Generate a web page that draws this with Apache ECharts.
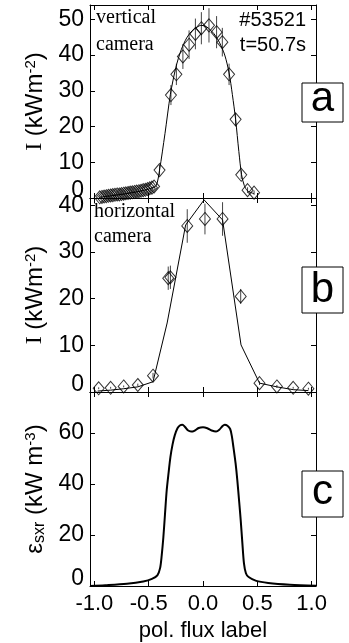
<!DOCTYPE html>
<html>
<head>
<meta charset="utf-8">
<script src="https://cdn.jsdelivr.net/npm/echarts@6/dist/echarts.min.js"></script>
<style>html,body{margin:0;padding:0;background:#fff;}#chart{width:349px;height:643px;}</style>
</head>
<body>
<div id="chart"></div>
<script>
// ---- Data ----
const xTicks = [-1.0, -0.5, 0.0, 0.5, 1.0];
const aTicks = [0, 10, 20, 30, 40, 50];
const bTicks = [0, 10, 20, 30, 40];
const cTicks = [0, 20, 40, 60];

// panel a: vertical camera (measured points + error)
const aX = [-0.95,-0.93,-0.91,-0.89,-0.87,-0.85,-0.83,-0.81,-0.79,-0.77,-0.75,-0.73,-0.71,-0.69,-0.67,-0.65,-0.63,-0.61,-0.59,-0.57,-0.55,-0.53,-0.51,-0.49,-0.47,-0.45,
            -0.40,-0.295,-0.245,-0.185,-0.128,-0.07,-0.015,0.055,0.125,0.178,0.24,0.30,0.352,0.41,0.47];
const aY = [0.2,0.3,0.4,0.5,0.6,0.7,0.8,0.9,1.0,1.0,1.1,1.2,1.3,1.4,1.5,1.6,1.7,1.8,1.9,2.0,2.2,2.3,2.5,2.7,2.9,3.2,
            7.8,28.8,34.6,39.6,42.9,45.9,47.5,48.3,46.4,43.6,34.6,22.0,6.5,2.2,1.5];
const aErr = [0.2,0.2,0.2,0.2,0.2,0.2,0.2,0.2,0.2,0.2,0.2,0.2,0.2,0.2,0.2,0.2,0.2,0.2,0.2,0.2,0.2,0.2,0.2,0.2,0.3,0.3,
            1.5,2.8,3.0,3.5,4.0,4.3,4.5,4.8,4.5,4.0,3.0,1.8,1.2,0.8,0.6];
// panel a: fit line
const aLineX = [-0.95,-0.85,-0.75,-0.65,-0.55,-0.47,-0.43,-0.40,-0.35,-0.30,-0.25,-0.20,-0.15,-0.10,-0.05,-0.02,0.02,0.05,0.10,0.15,0.20,0.24,0.27,0.30,0.33,0.355,0.38,0.41,0.47];
const aLineY = [0.2,0.6,1.0,1.5,2.1,2.8,3.5,7.8,18.0,29.0,36.5,41.5,44.8,46.8,47.9,48.3,48.1,47.5,46.0,43.6,40.0,35.0,29.0,22.0,13.0,6.5,3.5,2.0,1.2];

// panel b: horizontal camera
const bX = [-0.96,-0.85,-0.73,-0.60,-0.46,-0.32,-0.30,-0.145,0.018,0.18,0.347,0.52,0.68,0.83,0.97];
const bY = [0.8,0.9,1.2,1.5,3.5,24.4,24.6,35.6,37.1,37.1,20.5,1.9,1.2,0.9,0.7];
const bErr = [0.2,0.2,0.2,0.3,0.6,2.5,2.5,3.6,3.3,3.6,1.6,0.4,0.3,0.2,0.2];
const bLineX = [-0.97,-0.85,-0.73,-0.60,-0.46,-0.33,-0.16,0.01,0.18,0.35,0.52,0.68,0.83,0.97];
const bLineY = [0.2,0.4,0.7,1.1,2.2,14.8,35.8,41.2,36.9,10.1,1.9,1.1,0.5,0.3];

// panel c: SXR emissivity profile
const cX = [-1.04,-0.9,-0.7,-0.55,-0.47,-0.42,-0.395,-0.38,-0.365,-0.35,-0.334,-0.315,-0.30,-0.28,-0.26,-0.235,-0.21,-0.19,-0.165,-0.14,-0.11,-0.08,-0.04,0.0,0.04,0.08,0.12,0.15,0.18,0.20,0.225,0.25,0.265,0.28,0.30,0.316,0.333,0.347,0.362,0.377,0.395,0.42,0.49,0.6,0.8,1.04];
const cY = [0,0.3,0.9,1.8,2.8,4.2,7,12,19,28,37.5,45,50.5,55.5,59,61.8,63,63.2,62.3,61,60.5,60.8,61.9,62.2,61.8,60.9,60.5,61.2,62.7,63.2,62.8,61.5,58.8,54.4,48,41.4,33,25.8,17,8.9,5,3.5,2.0,1.2,0.5,0.05];

// ---- Build ----
const FONT = "'Liberation Sans', Arial, sans-serif";
const SERIF = "'Liberation Serif', 'Times New Roman', serif";
const zip = (xs, ys) => xs.map((x, i) => [x, ys[i]]);
const zip3 = (xs, ys, es) => xs.map((x, i) => [x, ys[i], es[i]]);

const grids = [
  {left: 90, width: 226, top: 5, height: 193},
  {left: 90, width: 226, top: 198, height: 194},
  {left: 90, width: 226, top: 392, height: 194}
];
const yRanges = [[0, 54], [0, 41.6], [0, 76]];
const yTickSets = [aTicks, bTicks, cTicks];

const lineStyle = {color: '#000', width: 1};
const xAxes = [], yAxes = [];
for (let i = 0; i < 3; i++) {
  for (const pos of ['bottom', 'top']) {
    const showLab = (i === 2 && pos === 'bottom');
    xAxes.push({
      type: 'value', gridIndex: i, position: pos, min: -1.04, max: 1.04,
      axisLine: {show: true, onZero: false, lineStyle},
      axisTick: {show: true, inside: true, length: 5, lineStyle, customValues: xTicks},
      axisLabel: {show: showLab, customValues: xTicks, formatter: v => v.toFixed(1),
                  fontSize: 22, color: '#000', fontFamily: FONT, margin: 7},
      splitLine: {show: false},
      name: showLab ? 'pol. flux label' : '',
      nameLocation: 'middle', nameGap: 34,
      nameTextStyle: {fontSize: 22, color: '#000', fontFamily: FONT}
    });
  }
}
const yNames = [
  '{i|I} (kWm{sup|-2})',
  '{i|I} (kWm{sup|-2})',
  'ε{sub|sxr} (kW m{sup|-3})'
];
const yGaps = [43, 43, 41];
for (let i = 0; i < 3; i++) {
  for (const pos of ['left', 'right']) {
    const showLab = pos === 'left';
    yAxes.push({
      type: 'value', gridIndex: i, position: pos, min: yRanges[i][0], max: yRanges[i][1],
      axisLine: {show: true, onZero: false, lineStyle},
      axisTick: {show: true, inside: true, length: 5, lineStyle, customValues: yTickSets[i]},
      axisLabel: {show: showLab, customValues: yTickSets[i],
                  formatter: v => v === 0 ? '{z|0}' : String(v),
                  fontSize: 23, color: '#000', fontFamily: FONT, margin: 6,
                  rich: {z: {fontSize: 23, color: '#000', fontFamily: FONT, padding: [0, 0, 14, 0]}}},
      splitLine: {show: false},
      name: showLab ? yNames[i] : '',
      nameLocation: 'middle', nameGap: yGaps[i], nameRotate: 90,
      nameTextStyle: {fontSize: 24, color: '#000', fontFamily: FONT,
        rich: {
          i: {fontSize: 24, fontFamily: SERIF, color: '#000'},
          sup: {fontSize: 15, fontFamily: FONT, color: '#000', verticalAlign: 'top'},
          sub: {fontSize: 16, fontFamily: FONT, color: '#000', verticalAlign: 'bottom'}
        }}
    });
  }
}

function errSeries(gi, data) {
  return {
    type: 'custom', xAxisIndex: gi * 2, yAxisIndex: gi * 2, data, clip: false, z: 2,
    renderItem: (params, api) => {
      const x = api.value(0), y = api.value(1), e = api.value(2);
      const p1 = api.coord([x, y - e]), p2 = api.coord([x, y + e]);
      return {type: 'line', shape: {x1: p1[0], y1: p1[1], x2: p2[0], y2: p2[1]},
              style: {stroke: '#444', lineWidth: 1}};
    }
  };
}
function diamonds(gi, data) {
  return {
    type: 'scatter', xAxisIndex: gi * 2, yAxisIndex: gi * 2, data, clip: false, z: 3,
    symbol: 'diamond', symbolSize: [11, 13],
    itemStyle: {color: 'rgba(0,0,0,0)', borderColor: '#000', borderWidth: 1},
    silent: true
  };
}
function line(gi, data, w, smooth) {
  return {
    type: 'line', xAxisIndex: gi * 2, yAxisIndex: gi * 2, data, showSymbol: false, symbol: 'none',
    smooth: smooth, lineStyle: {color: '#000', width: w}, clip: false, z: 2, silent: true
  };
}

const series = [
  line(0, zip(aLineX, aLineY), 1, 0.3),
  errSeries(0, zip3(aX, aY, aErr)),
  diamonds(0, zip(aX, aY)),
  line(1, zip(bLineX, bLineY), 1, false),
  errSeries(1, zip3(bX, bY, bErr)),
  diamonds(1, zip(bX, bY)),
  line(2, zip(cX, cY), 2, 0.3)
];

function txt(x, y, text, font, align) {
  return {type: 'text', x, y, z: 10,
    style: {text, font, fill: '#000', align: align || 'left', verticalAlign: 'middle'}};
}
function box(x, y, w, h, letter, ty) {
  return [
    {type: 'rect', shape: {x, y, width: w, height: h}, z: 10,
     style: {fill: '#fff', stroke: '#000', lineWidth: 1}},
    {type: 'text', x: x + w / 2, y: ty, z: 11,
     style: {text: letter, font: '42px ' + FONT, fill: '#000', align: 'center', verticalAlign: 'middle'}}
  ];
}

const graphic = [
  txt(96, 18, 'vertical', '20px ' + SERIF),
  txt(96, 45, 'camera', '20px ' + SERIF),
  txt(306, 20, '#53521', '20px ' + FONT, 'right'),
  txt(306, 45, 't=50.7s', '20px ' + FONT, 'right'),
  txt(94, 212, 'horizontal', '20px ' + SERIF),
  txt(94, 237, 'camera', '20px ' + SERIF),
  ...box(302, 83, 41, 39, 'a', 99),
  ...box(302, 267, 41, 46, 'b', 290),
  ...box(302, 471, 41, 46, 'c', 492)
];

const chart = echarts.init(document.getElementById('chart'), null, {renderer: 'canvas'});
chart.setOption({
  backgroundColor: '#fff',
  animation: false,
  grid: grids,
  xAxis: xAxes,
  yAxis: yAxes,
  series,
  graphic
});
</script>
</body>
</html>
